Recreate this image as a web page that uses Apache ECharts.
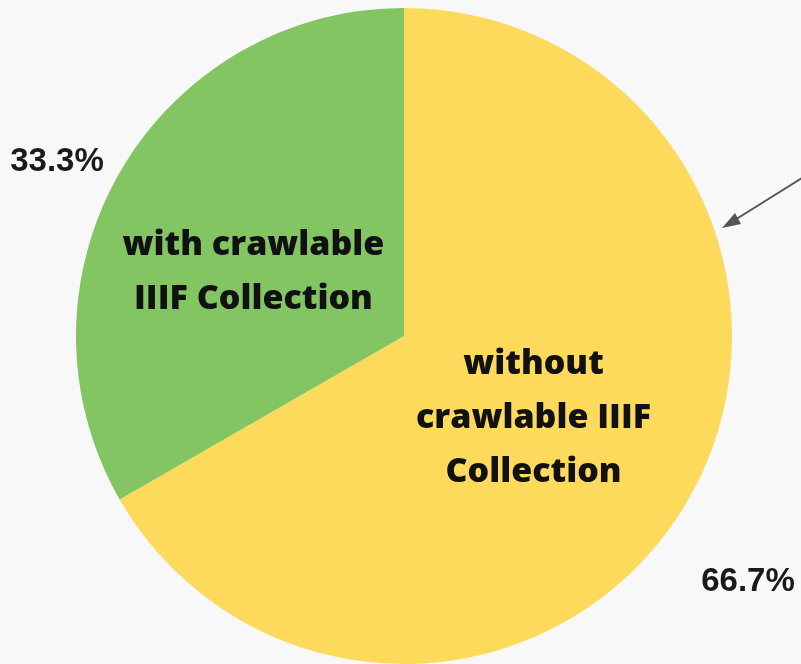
<!DOCTYPE html>
<html>
<head>
<meta charset="utf-8">
<script src="https://cdn.jsdelivr.net/npm/echarts@6/dist/echarts.min.js"></script>
<style>
html,body{margin:0;padding:0;background:#f8f8f8;}
#main{width:801px;height:664px;}
</style>
</head>
<body>
<div id="main"></div>
<script>
var categories = ['without\ncrawlable IIIF\nCollection', 'with crawlable\nIIIF Collection'];
var values = [66.7, 33.3];
var percentLabels = ['66.7%', '33.3%'];
var colors = ['#FDDA5B', '#84C563'];

var chart = echarts.init(document.getElementById('main'));
var mainData = categories.map(function (c, i) {
  return { name: c, value: values[i], itemStyle: { color: colors[i] } };
});
var overlayData = categories.map(function (c, i) {
  return { name: c, value: values[i], itemStyle: { color: 'rgba(0,0,0,0)' } };
});
var insideShift = [{ dx: -15, dy: -1 }, { dx: -6, dy: 20 }];
var outsidePos = [{ x: 748, y: 582 }, { x: 57, y: 162 }];

chart.setOption({
  backgroundColor: '#f8f8f8',
  animation: false,
  series: [
    {
      type: 'pie',
      center: [404, 336],
      radius: [0, 328],
      startAngle: 90,
      clockwise: true,
      silent: true,
      itemStyle: { borderWidth: 0 },
      label: {
        show: true,
        position: 'inside',
        formatter: '{b}',
        fontFamily: 'Open Sans',
        fontWeight: 800,
        fontSize: 34,
        lineHeight: 54,
        color: '#111',
        align: 'center',
        overflow: 'none'
      },
      labelLine: { show: false },
      labelLayout: function (p) { return insideShift[p.dataIndex]; },
      data: mainData
    },
    {
      type: 'pie',
      center: [404, 336],
      radius: [0, 328],
      startAngle: 90,
      clockwise: true,
      silent: true,
      z: 3,
      label: {
        show: true,
        position: 'outside',
        formatter: function (p) { return percentLabels[p.dataIndex]; },
        fontFamily: 'Liberation Sans',
        fontWeight: 'bold',
        fontSize: 33,
        color: '#1a1a1a',
        overflow: 'none',
        width: 200
      },
      labelLine: { show: false },
      labelLayout: function (p) {
        var o = outsidePos[p.dataIndex];
        return { x: o.x, y: o.y, align: 'center', verticalAlign: 'middle' };
      },
      data: overlayData
    }
  ],
  graphic: [
    {
      type: 'line',
      shape: { x1: 810, y1: 173, x2: 730, y2: 223 },
      style: { stroke: '#555', lineWidth: 2 }
    },
    {
      type: 'polygon',
      shape: { points: [[722, 228], [735, 213], [741, 224]] },
      style: { fill: '#555' }
    }
  ]
});
</script>
</body>
</html>
